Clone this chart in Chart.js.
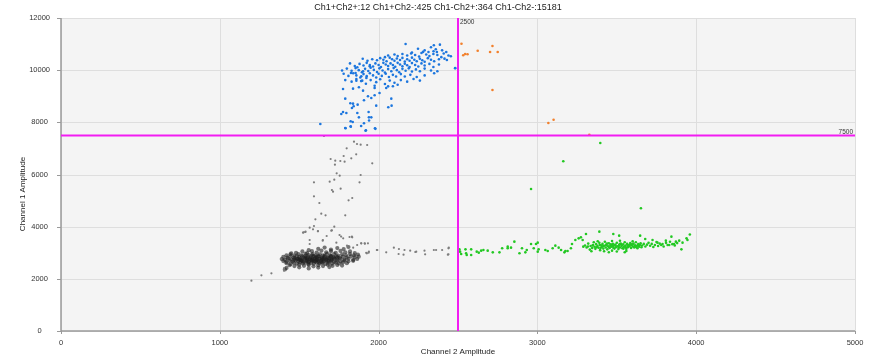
<!DOCTYPE html>
<html>
<head>
<meta charset="utf-8">
<script src="https://cdn.jsdelivr.net/npm/chart.js@4/dist/chart.umd.min.js"></script>
<style>
  html, body { margin: 0; padding: 0; background: #ffffff; }
  canvas { display: block; }
</style>
</head>
<body>
<canvas id="dropletPlot" width="869" height="363"></canvas>
<script>
// thresholds and quadrant counts
const ch2Threshold = 2500;
const ch1Threshold = 7500;
const quadrantNames = ['Ch1+Ch2+', 'Ch1+Ch2-', 'Ch1-Ch2+', 'Ch1-Ch2-'];
const quadrantCounts = [12, 425, 364, 15181];

// axis ranges
const xMax = 5000, xStep = 1000;
const yMax = 12000, yStep = 2000;

// droplets, [Channel 2 amplitude, Channel 1 amplitude]
const orangeDroplets = [
  [2522,11015],[2717,10927],[2533,10570],[2560,10609],[2624,10747],[2702,10697],
  [2750,10697],[2717,9240],[3069,7975],[3102,8101],[3327,7526],[2545,10620]
];

const blueDroplets = [
  [2170,11004],[2348,10953],[2386,10978],[2314,10697],[2346,10723],[2367,10697],[2426,10697],
  [2415,10442],[2430,10391],[2482,10084],[2455,10532],[2482,10072],
  [2248,10820],[2290,10760],[2330,10880],[2360,10800],[2400,10760],[2280,10700],[2210,10680],
  [2150,10620],[2180,10560],[2205,10640],[2230,10580],[2255,10520],[2270,10660],[2300,10600],
  [2320,10540],[2345,10620],[2370,10580],[2395,10500],[2410,10640],[2440,10560],[2120,10540],
  [2100,10600],[2060,10560],
  [1960,10420],[1990,10380],[2010,10460],[2030,10400],[2050,10340],[2070,10480],[2085,10420],
  [2100,10360],[2115,10450],[2135,10390],[2150,10470],[2165,10330],[2180,10420],[2195,10360],
  [2210,10480],[2225,10400],[2240,10340],[2260,10440],[2275,10380],[2290,10320],[2310,10460],
  [2330,10400],[2350,10340],[2380,10420],[1930,10360],[1900,10440],[2040,10500],
  [1880,10240],[1905,10180],[1925,10280],[1945,10200],[1965,10140],[1980,10260],[2000,10200],
  [2015,10120],[2030,10280],[2045,10220],[2060,10160],[2075,10260],[2090,10200],[2105,10130],
  [2120,10280],[2135,10220],[2150,10150],[2165,10250],[2180,10190],[2195,10120],[2210,10270],
  [2230,10200],[2250,10140],[2270,10260],[2290,10180],[2320,10240],[2345,10120],[2380,10220],
  [1850,10160],[1820,10260],
  [1800,10060],[1830,9980],[1855,10080],[1875,10000],[1895,9920],[1915,10050],[1935,9970],
  [1950,10090],[1970,10010],[1990,9930],[2005,10070],[2025,9990],[2040,9910],[2060,10040],
  [2080,9960],[2095,10080],[2115,10000],[2130,9920],[2150,10050],[2170,9980],[2190,10070],
  [2210,9950],[2235,10030],[2260,9960],[2290,10060],[2330,9990],[2370,9960],[1770,9990],
  [1780,9860],[1810,9780],[1840,9880],[1860,9800],[1885,9720],[1905,9850],[1925,9770],
  [1945,9880],[1965,9800],[1985,9720],[2000,9860],[2020,9780],[2045,9860],[2065,9740],
  [2090,9820],[2110,9760],[2140,9850],[2165,9760],[2200,9820],[2240,9740],[2290,9800],[2350,9880],
  [1790,9620],[1830,9560],[1860,9660],[1890,9580],[1920,9480],[1950,9620],[1985,9540],
  [2010,9650],[2040,9470],[2070,9600],[2100,9520],[2140,9620],[2180,9560],[2220,9660],
  [2260,9600],[1975,9400],[2060,9380],[2120,9440],
  [1975,9317],[2048,9317],[2090,9381],[2006,9126],[2080,8908],[1954,8934],[1975,9036],
  [1933,8998],[1908,8844],[1985,8640],[2061,8576],[2082,8640],
  [1826,9892],[1866,10109],[1855,9892],[1902,9956],[1891,9764],[1944,10148],[1860,9598],
  [1897,9598],[1923,9700],[1776,9279],[1839,9291],[1876,9343],[1902,9215],[1790,8908],
  [1822,8729],[1839,8716],[1868,8678],[1832,8550],[1843,8614],[1776,8397],[1797,8359],
  [1765,8320],[1866,8359],[1937,8397],[1876,8192],[1939,8192],[1954,8192],[1824,8039],
  [1837,8014],[1908,7962],[1790,7783],[1824,7847],[1920,7694],[1977,7771],
  [1633,7937],[1792,7771],[1825,7830],[1918,7680],[1980,7750],[1890,7860],[1940,8070]
];

const greenDroplets = [
  [3396,7208],[3163,6506],[2960,5444],[3652,4704],[3960,3700],
  [2509,3131],[2513,3042],[2520,2952],[2547,3131],[2551,2978],[2555,2914],[2583,3131],
  [2583,2914],[2618,3042],[2631,3004],[2646,3080],[2660,3106],[2687,3080],[2719,3016],
  [2761,3016],[2778,3170],[2813,3234],[2813,3170],[2834,3195],[2855,3425],[2887,2978],
  [2903,3170],[2924,3016],[2933,3106],[2960,3336],[2977,3170],[2991,3336],[3002,3387],
  [3002,3042],[3008,3131],[3050,3106],[3065,3068],[3096,3170],[3113,3272],[3134,3195],
  [3149,3106],[3170,3016],[3176,3068],[3190,3068],[3211,3170],[3218,3336],[3239,3489],
  [3260,3553],[3274,3591],[3285,3489],[3289,3234],[3306,3719],[3390,3809],[3478,3719],
  [3515,3655],[3647,3655],[3679,3527],[3725,3489],[3844,3617],[3939,3553],[3945,3489],
  [3907,3131],[3872,3425],[3830,3297],[3788,3336],[3756,3387],[3809,3463],[3861,3336],
  [3893,3463],[3914,3387],
  [3300,3280],[3310,3200],[3320,3350],[3330,3120],[3335,3260],[3345,3180],[3350,3300],
  [3355,3400],[3360,3230],[3365,3150],[3370,3330],[3378,3260],[3385,3190],[3390,3380],
  [3395,3100],[3400,3290],[3405,3220],[3410,3340],[3415,3160],[3420,3270],[3425,3420],
  [3430,3200],[3435,3310],[3440,3130],[3445,3250],[3450,3360],[3455,3180],[3460,3290],
  [3465,3230],[3470,3080],[3475,3340],[3480,3270],[3485,3160],[3490,3310],[3495,3210],
  [3500,3380],[3505,3250],[3510,3140],[3515,3300],[3520,3200],[3525,3350],[3530,3260],
  [3535,3170],[3540,3320],[3545,3230],[3550,3400],[3555,3280],[3560,3150],[3565,3340],
  [3570,3210],[3575,3290],[3580,3250],[3585,3370],[3590,3180],[3595,3310],[3600,3240],
  [3605,3350],[3610,3200],[3615,3290],[3620,3400],[3625,3260],[3630,3170],[3635,3330],
  [3640,3230],[3645,3300],[3650,3360],[3655,3210],[3660,3280],[3670,3340],[3680,3240],
  [3690,3310],[3700,3380],[3710,3270],[3720,3340],[3730,3220],[3740,3300],[3750,3410],
  [3760,3260],[3770,3350],[3780,3300],[3795,3240],[3810,3380],[3820,3300],[3835,3420],
  [3850,3330],[3865,3280],[3880,3370],[3340,3060],[3420,3060],[3500,3050],[3560,3070],
  [3380,3440],[3470,3450],[3520,3460],[3600,3440],[3450,3020],[3550,3020],
  [3318,3240],[3348,3280],[3372,3210],[3392,3300],[3412,3250],[3432,3290],[3452,3210],
  [3472,3260],[3492,3280],[3512,3220],[3532,3300],[3552,3240],[3572,3260],[3592,3300],
  [3612,3250],[3632,3280],[3398,3180],[3438,3350],[3478,3190],[3518,3330],[3558,3200],
  [3598,3330],[3462,3320],[3542,3160],[3582,3310],[3622,3220]
];

// double negatives: the dense cloud and the scattered rain around it
const grayCloud = [
  [1620,3150],[1660,3200],[1700,3120],[1740,3180],[1780,3140],[1560,3100],[1810,3220],
  [1480,3000],[1520,3050],[1550,2990],[1580,3060],[1610,3010],[1640,3080],[1670,3020],
  [1700,3060],[1730,3000],[1760,3070],[1790,3020],[1820,3050],[1850,2990],[1450,2980],
  [1420,2900],[1445,2940],[1470,2890],[1495,2950],[1515,2900],[1540,2960],[1560,2910],
  [1585,2950],[1605,2890],[1630,2940],[1650,2900],[1675,2960],[1695,2910],[1720,2950],
  [1745,2890],[1770,2940],[1795,2900],[1820,2950],[1845,2900],[1870,2930],
  [1400,2840],[1425,2810],[1445,2860],[1465,2820],[1485,2870],[1500,2830],[1520,2860],
  [1540,2810],[1555,2850],[1575,2820],[1590,2870],[1610,2830],[1625,2860],[1645,2810],
  [1660,2850],[1680,2820],[1700,2870],[1715,2830],[1735,2860],[1755,2810],[1775,2850],
  [1800,2820],[1825,2860],[1850,2830],[1875,2850],
  [1390,2760],[1410,2730],[1430,2780],[1450,2740],[1470,2790],[1488,2750],[1505,2780],
  [1520,2730],[1538,2770],[1552,2740],[1568,2790],[1582,2750],[1598,2780],[1612,2730],
  [1628,2770],[1642,2740],[1658,2790],[1672,2750],[1690,2780],[1705,2730],[1722,2770],
  [1740,2740],[1760,2780],[1785,2740],[1810,2770],[1840,2730],[1865,2760],
  [1400,2680],[1420,2650],[1440,2700],[1460,2660],[1478,2710],[1495,2670],[1512,2700],
  [1528,2650],[1545,2690],[1560,2660],[1576,2710],[1592,2670],[1608,2700],[1622,2650],
  [1638,2690],[1654,2660],[1670,2710],[1686,2670],[1702,2700],[1720,2650],[1740,2690],
  [1762,2660],[1785,2700],[1810,2670],[1840,2690],
  [1420,2600],[1445,2570],[1465,2620],[1485,2580],[1505,2630],[1522,2590],[1540,2620],
  [1558,2570],[1575,2610],[1592,2580],[1610,2630],[1628,2590],[1645,2620],[1665,2570],
  [1685,2610],[1705,2580],[1728,2620],[1750,2590],[1775,2630],[1800,2600],
  [1440,2520],[1470,2490],[1500,2540],[1530,2500],[1560,2530],[1590,2480],[1620,2520],
  [1650,2490],[1680,2540],[1710,2500],[1740,2530],[1770,2510],
  [1420,2420],[1500,2440],[1560,2400],[1620,2430],[1690,2450],[1410,2360],
  [1490,2780],[1510,2720],[1530,2810],[1550,2700],[1570,2760],[1590,2720],[1600,2820],
  [1620,2700],[1640,2790],[1660,2720],[1680,2800],[1700,2740],[1520,2680],[1560,2640],
  [1600,2660],[1640,2640],[1680,2680],[1540,2880],[1580,2900],[1620,2870],[1660,2890],
  [1700,2860],[1500,2740],[1580,2700],[1650,2760],[1720,2800],[1470,2740],[1740,2820],
  [1550,2790],[1610,2760]
];

const grayRain = [
  [1656,7476],[1845,7259],[1864,7169],[1887,7144],[1928,7131],[1799,7003],[1859,6773],
  [1780,6709],[1828,6620],[1698,6594],[1727,6530],[1759,6518],[1786,6492],[1960,6428],
  [1725,6377],[1736,6045],[1755,5955],[1887,5981],[1593,5700],[1692,5725],[1721,5802],
  [1880,5700],[1706,5406],[1713,5342],[1761,5457],[1593,5163],[1811,5009],[1834,5099],
  [1627,4907],[1639,4498],[1666,4434],[1790,4434],[1602,4281],[1593,4025],[1566,3961],
  [1587,3898],[1721,4000],[1528,3783],[1538,3795],[1618,3821],[1706,3859],[1673,3642],
  [1754,3680],[1566,3489],[1566,3335],[1648,3463],[1777,3553],[1817,3604],[1832,3617],
  [1734,3386],[1801,3271],[1891,3361],[1914,3348],[1840,3195],[1865,3297],
  [1524,3770],[1540,3808],[1618,3834],[1702,3846],[1649,3489],[1764,3620],[1834,3591],
  [1890,3361],[1939,3041],[1926,2977],[1989,3105],
  [1922,2999],[1937,3003],[1992,3106],[2048,3017],[2096,3194],[2128,3144],[2126,2952],
  [2157,2925],[2163,3106],[2199,3079],[2231,3029],[2237,3042],[2289,3079],[2293,2940],
  [2348,3106],[2362,3106],[2400,3106],[2440,3170],[2440,2940],[2442,3194],[2436,2925],
  [1933,3362],[1912,3362],
  [1199,1929],[1262,2135],[1325,2212],[1404,2400],[1404,2312]
];

function toPoints(arr) {
  return arr.map(p => ({ x: p[0], y: p[1] }));
}

function dots(data, color, radius) {
  return {
    data: toPoints(data),
    backgroundColor: color,
    pointRadius: radius,
    pointBorderWidth: 0,
    pointHoverRadius: radius
  };
}

// plot background, threshold lines, tick marks and text
const plotDecor = {
  id: 'plotDecor',
  beforeDatasetsDraw(chart) {
    const { ctx, chartArea: a } = chart;
    ctx.save();
    ctx.fillStyle = '#f4f4f4';
    ctx.fillRect(a.left, a.top, a.right - a.left, a.bottom - a.top);
    ctx.strokeStyle = '#dedede';
    ctx.lineWidth = 1;
    const xs = chart.scales.x, ys = chart.scales.y;
    for (let v = 0; v <= xMax; v += xStep) {
      const px = Math.round(xs.getPixelForValue(v)) + 0.5;
      ctx.beginPath(); ctx.moveTo(px, a.top); ctx.lineTo(px, a.bottom); ctx.stroke();
    }
    for (let v = 0; v <= yMax; v += yStep) {
      const py = Math.round(ys.getPixelForValue(v)) + 0.5;
      ctx.beginPath(); ctx.moveTo(a.left, py); ctx.lineTo(a.right, py); ctx.stroke();
    }
    ctx.restore();
  },
  afterDraw(chart) {
    const { ctx, chartArea: a } = chart;
    const xs = chart.scales.x, ys = chart.scales.y;
    ctx.save();

    // axis lines and tick marks
    ctx.strokeStyle = '#9a9a9a';
    ctx.lineWidth = 1.5;
    ctx.beginPath();
    ctx.moveTo(a.left, a.top); ctx.lineTo(a.left, a.bottom); ctx.lineTo(a.right, a.bottom);
    ctx.stroke();
    ctx.lineWidth = 1;
    for (let v = 0; v <= yMax; v += yStep) {
      const py = Math.round(ys.getPixelForValue(v)) + 0.5;
      ctx.beginPath(); ctx.moveTo(a.left - 4, py); ctx.lineTo(a.left, py); ctx.stroke();
    }
    for (let v = 0; v <= xMax; v += xStep) {
      const px = Math.round(xs.getPixelForValue(v)) + 0.5;
      ctx.beginPath(); ctx.moveTo(px, a.bottom); ctx.lineTo(px, a.bottom + 3); ctx.stroke();
    }

    // thresholds
    const tx = xs.getPixelForValue(ch2Threshold);
    const ty = ys.getPixelForValue(ch1Threshold);
    ctx.strokeStyle = '#f21cf2';
    ctx.lineWidth = 2;
    ctx.beginPath(); ctx.moveTo(tx, a.top); ctx.lineTo(tx, a.bottom); ctx.stroke();
    ctx.beginPath(); ctx.moveTo(a.left, ty); ctx.lineTo(a.right, ty); ctx.stroke();

    ctx.fillStyle = '#333333';
    ctx.font = '6.5px "Liberation Sans", Arial, sans-serif';
    ctx.textAlign = 'left';
    ctx.textBaseline = 'middle';
    ctx.fillText(String(ch2Threshold), tx + 2, a.top + 4);
    ctx.textAlign = 'right';
    ctx.fillText(String(ch1Threshold), a.right - 2, ty - 3);

    // title
    ctx.fillStyle = '#222222';
    ctx.font = '9px "Liberation Sans", Arial, sans-serif';
    ctx.textAlign = 'center';
    ctx.fillText(quadrantNames.map((n, i) => n + ':' + quadrantCounts[i]).join(' '), 438, 8);

    // axis titles
    ctx.font = '8px "Liberation Sans", Arial, sans-serif';
    ctx.fillText('Channel 2 Amplitude', 458, 352);
    ctx.translate(23, 194);
    ctx.rotate(-Math.PI / 2);
    ctx.fillText('Channel 1 Amplitude', 0, 0);
    ctx.restore();
  }
};

const tickFont = { family: '"Liberation Sans", Arial, sans-serif', size: 7.5 };
const plainNumber = v => String(v);

new Chart(document.getElementById('dropletPlot'), {
  type: 'scatter',
  data: {
    datasets: [
      dots(orangeDroplets, 'rgb(242,128,44)', 1.3),
      dots(blueDroplets, 'rgb(28,118,222)', 1.3),
      dots(greenDroplets, 'rgb(34,200,34)', 1.3),
      dots(grayRain, 'rgb(125,125,125)', 1.1),
      dots(grayCloud, 'rgba(30,30,30,0.6)', 2.1)
    ]
  },
  options: {
    responsive: false,
    animation: false,
    devicePixelRatio: 1,
    layout: { padding: { top: 18, right: 14, left: 0, bottom: 0 } },
    plugins: {
      legend: { display: false },
      tooltip: { enabled: false },
      title: { display: false }
    },
    scales: {
      x: {
        type: 'linear',
        min: 0,
        max: xMax,
        afterFit: s => { s.height = 32; },
        grid: { display: false, drawTicks: true, tickLength: 4 },
        border: { display: false },
        ticks: { stepSize: xStep, color: '#333333', font: tickFont, padding: 3, maxRotation: 0, callback: plainNumber }
      },
      y: {
        type: 'linear',
        min: 0,
        max: yMax,
        afterFit: s => { s.width = 61; },
        grid: { display: false, drawTicks: true, tickLength: 8 },
        border: { display: false },
        ticks: { stepSize: yStep, color: '#333333', font: tickFont, crossAlign: 'center', callback: plainNumber }
      }
    }
  },
  plugins: [plotDecor]
});
</script>
</body>
</html>
